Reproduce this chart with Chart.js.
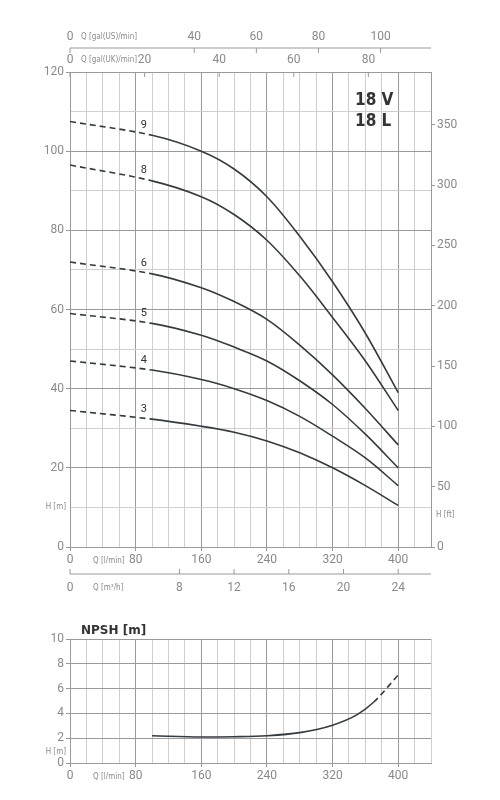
<!DOCTYPE html>
<html><head><meta charset="utf-8">
<script src="https://cdn.jsdelivr.net/npm/chart.js@4/dist/chart.umd.min.js"></script>
<style>body{margin:0;background:#fff}#a{position:absolute;left:0;top:0;width:500px;height:600px}#b{position:absolute;left:0;top:600px;width:500px;height:200px}</style>
</head><body>
<div id="a"><canvas id="c1"></canvas></div><div id="b"><canvas id="c2"></canvas></div>
<script>
const flowQ = [0, 100, 160, 200, 240, 280, 320, 360, 400];
const stageNames = ['9','8','6','5','4','3'];
const head9 = [107.5, 104, 100, 95.5, 88.5, 78.5, 67, 54, 39];
const head8 = [96.5, 92.5, 88.5, 84, 77.5, 68.5, 58, 47, 34.5];
const head6 = [72, 69, 65.5, 62, 57.5, 51, 43.5, 35, 25.8];
const head5 = [59, 56.5, 53.5, 50.5, 47, 42, 36, 28.5, 20];
const head4 = [47, 44.7, 42.3, 40, 37, 33, 28, 22.5, 15.5];
const head3 = [34.5, 32.3, 30.5, 29, 26.8, 23.8, 20, 15.5, 10.5];
const npshQ = [100, 160, 200, 240, 280, 320, 350, 370, 400];
const npshV = [2.2, 2.1, 2.12, 2.2, 2.45, 3.05, 3.9, 4.9, 7.1];
const usTicks = [0, 40, 60, 80, 100];
const ukTicks = [0, 20, 40, 60, 80];
const m3hTicks = [0, 8, 12, 16, 20, 24];
const qTickLabels = [0, 80, 160, 240, 320, 400];

const grey = '#8a8a8a', gLight = '#cfcfcf', gDark = '#9a9a9a', curve = '#333a40';
const fnt = {family:'Roboto', size:12};
const heads = [head9, head8, head6, head5, head4, head3];
const xScale = (h) => ({type:'linear', min:0, max:440, position:'bottom',
  afterFit: s => { s.height = h; },
  border:{color:gDark},
  grid:{color: c => c.tick && c.tick.value % 80 === 0 ? gDark : gLight, tickLength:4, tickColor: c => c.tick && c.tick.value%80===0 ? gDark : 'rgba(0,0,0,0)'},
  ticks:{stepSize:20, color:grey, font:fnt, maxRotation:0, autoSkip:false, padding:2,
    callback: v => qTickLabels.includes(v) ? String(v) : ''}});

const dashSeg = {borderDash: c => c.p1.parsed.x <= 100 ? [6,4] : undefined};
const ds1 = heads.map((h,i)=>({label:stageNames[i], data: flowQ.map((q,j)=>({x:q,y:h[j]})),
  borderColor:curve, borderWidth:1.6, pointRadius:0, tension:0.35, segment:dashSeg, yAxisID:'y'}));

function txt(ctx, s, x, y, font, color, align){ctx.save();ctx.font=font;ctx.fillStyle=color;ctx.textAlign=align||'left';ctx.textBaseline='middle';ctx.fillText(s,x,y);ctx.restore();}
function hAxis(ctx, ca, sx, ticks, f, lineY, tickDir, labY){
  ctx.save();ctx.strokeStyle=gDark;ctx.lineWidth=1;
  if(lineY!==null){ctx.beginPath();ctx.moveTo(ca.left,lineY);ctx.lineTo(ca.right,lineY);ctx.stroke();}
  ticks.forEach(t=>{const x=sx.getPixelForValue(t*f);
    const y0 = lineY!==null?lineY:ca.top;
    ctx.beginPath();ctx.moveTo(x,y0);ctx.lineTo(x,y0+tickDir*5);ctx.stroke();
    txt(ctx,String(t),x,labY,'12px Roboto',grey,'center');});
  ctx.restore();
}
const sm='8px "DejaVu Sans Condensed"';
const extra1 = {id:'extra1', afterDraw(ch){
  const ctx=ch.ctx, ca=ch.chartArea, sx=ch.scales.x, sy=ch.scales.y;
  hAxis(ctx, ca, sx, usTicks, 3.78541, 48, 1, 37);
  hAxis(ctx, ca, sx, ukTicks, 4.54609, null, 1, 60);
  hAxis(ctx, ca, sx, m3hTicks, 1000/60, 574, -1, 588);
  txt(ctx,'Q [gal(US)/min]',81,37,sm,grey);
  txt(ctx,'Q [gal(UK)/min]',81,60,sm,grey);
  txt(ctx,'Q [l/min]',93,561,sm,grey);
  txt(ctx,'Q [m³/h]',93,588,sm,grey);
  txt(ctx,'H [m]',66,507,sm,grey,'right');
  txt(ctx,'H [ft]',436,515,sm,grey);
  txt(ctx,'18 V',355,101,'bold 17px "DejaVu Sans Condensed"','#333');
  txt(ctx,'18 L',355,122,'bold 17px "DejaVu Sans Condensed"','#333');
  heads.forEach((h,i)=>{const q=90, v=h[0]+(h[1]-h[0])*q/100;
    txt(ctx,stageNames[i],sx.getPixelForValue(q),sy.getPixelForValue(v)-9,'11px Roboto','#333','center');});
}};

new Chart(document.getElementById('c1'), {type:'line', data:{datasets:ds1},
  options:{responsive:true, maintainAspectRatio:false, animation:false,
    layout:{padding:{top:72,left:0,right:0,bottom:0}},
    plugins:{legend:{display:false}, tooltip:{enabled:false}},
    scales:{x: xScale(53),
      y:{min:0,max:120, afterFit:s=>{s.width=70;}, border:{color:gDark},
        grid:{color:c=>c.tick&&c.tick.value%20===0?gDark:gLight, tickLength:4, tickColor:c=>c.tick&&c.tick.value%20===0?gDark:'rgba(0,0,0,0)'},
        ticks:{stepSize:10,color:grey,font:fnt,padding:2,callback:v=>v%20===0?String(v):''}},
      y2:{position:'right', min:0, max:120*3.28084, afterFit:s=>{s.width=69;}, border:{color:gDark},
        grid:{drawOnChartArea:false, tickLength:4, color:c=>c.tick&&c.tick.value%50===0?gDark:'rgba(0,0,0,0)'},
        ticks:{stepSize:50,color:grey,font:fnt,padding:2,callback:v=>v%50===0?String(v):''}}}},
  plugins:[extra1]});

const extra2 = {id:'extra2', afterDraw(ch){const ctx=ch.ctx;
  txt(ctx,'NPSH [m]',81,31,'bold 12px "DejaVu Sans"','#333');
  txt(ctx,'H [m]',66,152,sm,grey,'right');
  txt(ctx,'Q [l/min]',93,177,sm,grey);}};
new Chart(document.getElementById('c2'), {type:'line',
  data:{datasets:[{data:npshQ.map((q,j)=>({x:q,y:npshV[j]})), borderColor:curve, borderWidth:1.6, pointRadius:0,
    cubicInterpolationMode:'monotone', segment:{borderDash:c=>c.p0.parsed.x>=370?[6,4]:undefined}}]},
  options:{responsive:true, maintainAspectRatio:false, animation:false,
    layout:{padding:{top:39,right:69,left:0,bottom:0}},
    plugins:{legend:{display:false}, tooltip:{enabled:false}},
    scales:{x: xScale(37),
      y:{min:0,max:10, afterFit:s=>{s.width=70;}, border:{color:gDark},
        grid:{color:c=>c.tick&&c.tick.value%2===0?gDark:gLight, tickLength:4, tickColor:c=>c.tick&&c.tick.value%2===0?gDark:'rgba(0,0,0,0)'},
        ticks:{stepSize:1,color:grey,font:fnt,padding:2,callback:v=>v%2===0?String(v):''}}}},
  plugins:[extra2]});
</script>
</body></html>
